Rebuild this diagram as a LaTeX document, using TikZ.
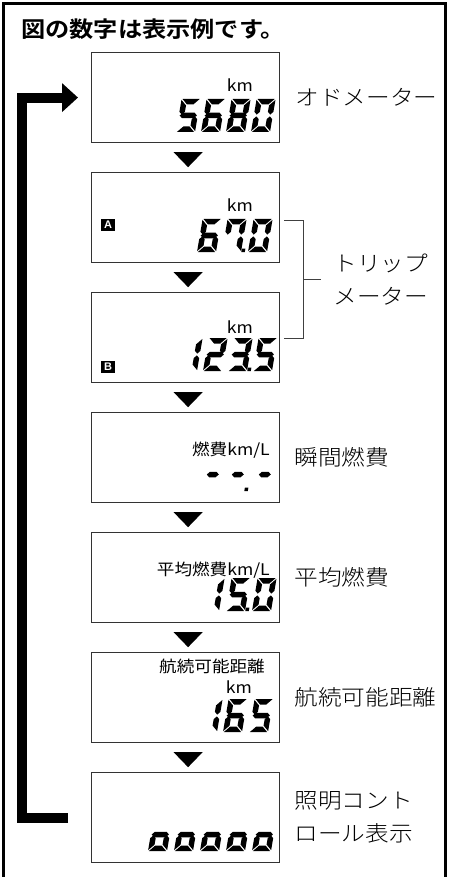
\documentclass[tikz,border=0pt]{standalone}
\usepackage{fontspec}
\setmainfont{Noto Sans CJK JP}[FakeStretch=1.1, BoldFont={Noto Sans CJK JP Bold}]
\newfontfamily\lightfont{Noto Sans CJK JP Light}[FakeStretch=1.1]
\newfontfamily\tagfont{Liberation Sans}
\usetikzlibrary{arrows.meta,calc}
\def\DW{19}\def\DH{33}\def\DT{5.5}\def\DG{0.9}
\def\sega{\fill ({\DG},{\DH}) -- ({\DW-\DG},{\DH}) -- ({\DW-\DT-\DG},{\DH-\DT}) -- ({\DT+\DG},{\DH-\DT}) -- cycle;}
\def\segd{\fill ({\DG},0) -- ({\DW-\DG},0) -- ({\DW-\DT-\DG},{\DT}) -- ({\DT+\DG},{\DT}) -- cycle;}
\def\segg{\fill ({\DG},{\DH/2}) -- ({\DG+\DT/2},{\DH/2+\DT/2}) -- ({\DW-\DG-\DT/2},{\DH/2+\DT/2}) -- ({\DW-\DG},{\DH/2}) -- ({\DW-\DG-\DT/2},{\DH/2-\DT/2}) -- ({\DG+\DT/2},{\DH/2-\DT/2}) -- cycle;}
\def\segh{\fill (4,{\DH/2}) -- ({4+\DT/2},{\DH/2+\DT/2}) -- ({\DW-3-\DT/2},{\DH/2+\DT/2}) -- ({\DW-3},{\DH/2}) -- ({\DW-3-\DT/2},{\DH/2-\DT/2}) -- ({4+\DT/2},{\DH/2-\DT/2}) -- cycle;}
\def\segf{\fill (0,{\DH-\DG}) -- ({\DT},{\DH-\DT-\DG}) -- ({\DT},{\DH/2+\DT/2+\DG}) -- ({\DT/2},{\DH/2+\DG}) -- (0,{\DH/2+\DT/2+\DG}) -- cycle;}
\def\sege{\fill (0,{\DG}) -- ({\DT},{\DT+\DG}) -- ({\DT},{\DH/2-\DT/2-\DG}) -- ({\DT/2},{\DH/2-\DG}) -- (0,{\DH/2-\DT/2-\DG}) -- cycle;}
\def\segb{\fill ({\DW},{\DH-\DG}) -- ({\DW-\DT},{\DH-\DT-\DG}) -- ({\DW-\DT},{\DH/2+\DT/2+\DG}) -- ({\DW-\DT/2},{\DH/2+\DG}) -- ({\DW},{\DH/2+\DT/2+\DG}) -- cycle;}
\def\segc{\fill ({\DW},{\DG}) -- ({\DW-\DT},{\DT+\DG}) -- ({\DW-\DT},{\DH/2-\DT/2-\DG}) -- ({\DW-\DT/2},{\DH/2-\DG}) -- ({\DW},{\DH/2-\DT/2-\DG}) -- cycle;}
\def\segp{\fill ({\DW+0.3},0) rectangle ++(3.5,3.5);}
\newcommand\lcddigit[3]{\begin{scope}[shift={(#1,#2)},y=1pt,xslant=0.17]\foreach \s in {#3}{\csname seg\s\endcsname}\end{scope}}
\tikzset{
 lcd/.style={draw=black!80, line width=1.2pt, minimum width=188pt, minimum height=90pt, inner sep=0pt, anchor=north west},
 side/.style={font=\lightfont\fontsize{21.5}{33}\selectfont, anchor=west, inner sep=0pt, align=left},
 small/.style={font=\fontsize{16}{18}\selectfont, inner sep=0pt, anchor=base east},
 tag/.style={fill=black, text=white, font=\tagfont\bfseries\fontsize{11}{11}\selectfont, minimum width=14.5pt, minimum height=12.5pt, inner sep=0pt},
 brk/.style={draw=black!75, line width=0.9pt},
 loopline/.style={line width=10pt, line join=miter, -{Triangle[length=16pt,width=28pt]}},
}
\begin{document}
\begin{tikzpicture}[x=1pt,y=-1pt]
\useasboundingbox (0,0) rectangle (449,877);
% frame
\draw[line width=2.5pt] (3.5,877) -- (3.5,3.5) -- (445.5,3.5) -- (445.5,877);
% title
\node[anchor=west, inner sep=0pt, font=\bfseries\fontsize{22}{22}\selectfont] (title) at (21,29) {図の数字は表示例です。};
% boxes
\node[lcd] (b1) at (91,52) {};
\node[lcd] (b2) at (91,172) {};
\node[lcd] (b3) at (91,292) {};
\node[lcd] (b4) at (91,412) {};
\node[lcd] (b5) at (91,532) {};
\node[lcd] (b6) at (91,652) {};
\node[lcd] (b7) at (91,772) {};
% down triangles
\foreach \b in {b1,b2,b3,b4,b5,b6}{
  \fill ([xshift=-12pt,yshift=-9pt]\b.south) -- ([xshift=17pt,yshift=-9pt]\b.south) -- ([xshift=2.5pt,yshift=-24pt]\b.south) -- cycle;
}
% loop arrow
\coordinate (loopS) at ([xshift=-23pt]b7.west);
\coordinate (loopE) at ([xshift=-13pt]b1.west);
\draw[loopline] (loopS) -- ++(-46pt,0) |- (loopE);
% side labels
\node[side] (l1) at ([xshift=15pt]b1.east) {オドメーター};
\node[side] (l4) at ([xshift=14pt]b4.east) {瞬間燃費};
\node[side] (l5) at ([xshift=14pt]b5.east) {平均燃費};
\node[side] (l6) at ([xshift=14pt]b6.east) {航続可能距離};
\node[side] (l7) at ([xshift=14pt]b7.east) {照明コント\\ロール表示};
% bracket
\coordinate (brA) at ([xshift=4pt,yshift=-3pt]b2.east);
\coordinate (brB) at ([xshift=4pt,yshift=-1pt]b3.east);
\coordinate (brM) at ($(brA)!0.5!(brB)+(19pt,0)$);
\draw[brk] (brA) -- ++(19pt,0) |- (brB);
\node[side] (l23) at ([xshift=30pt]brM) {トリップ\\メーター};
\draw[brk] (brM) -- ([xshift=-12pt]l23.west);
% box texts
\node[small] (km1) at (253,92) {km};
\node[small] (km2) at (253,212) {km};
\node[small] (km3) at (253,333) {km};
\node[small] (t4) at (270,455) {燃費km/L};
\node[small] (t5) at (270,575) {平均燃費km/L};
\node[small] (t6) at (265,672) {航続可能距離};
\node[small] (km6) at (252,693) {km};
\node[tag] (tagA) at (108,225) {A};
\node[tag] (tagB) at (108,367) {B};
% digits box1: 5680
\lcddigit{176}{132}{a,f,g,c,d}
\lcddigit{201}{132}{a,f,g,e,c,d}
\lcddigit{226}{132}{a,b,c,d,e,f,g}
\lcddigit{251}{132}{a,b,c,d,e,f}
% box2: 67.0
\lcddigit{197}{252}{a,f,g,e,c,d}
\lcddigit{222}{252}{a,f,b,c,p}
\lcddigit{248}{252}{a,b,c,d,e,f}
% box3: 123.5
\lcddigit{178}{371}{b,c}
\lcddigit{203}{371}{a,b,g,e,d}
\lcddigit{228}{371}{a,b,g,c,d,p}
\lcddigit{253}{371}{a,f,g,c,d}
% box4: --.-
\lcddigit{200}{491}{h}
\lcddigit{225}{491}{h,p}
\lcddigit{252}{491}{h}
% box5: 15.0
\lcddigit{200}{611}{b,c}
\lcddigit{226}{611}{a,f,g,c,d,p}
\lcddigit{252}{611}{a,b,c,d,e,f}
% box6: 165
\lcddigit{198}{732}{b,c}
\lcddigit{223}{732}{a,f,g,e,c,d}
\lcddigit{249}{732}{a,f,g,c,d}
% box7: ooooo
\foreach \x in {148,174,200,226,252}{\lcddigit{\x}{851}{g,c,d,e}}
\end{tikzpicture}
\end{document}
